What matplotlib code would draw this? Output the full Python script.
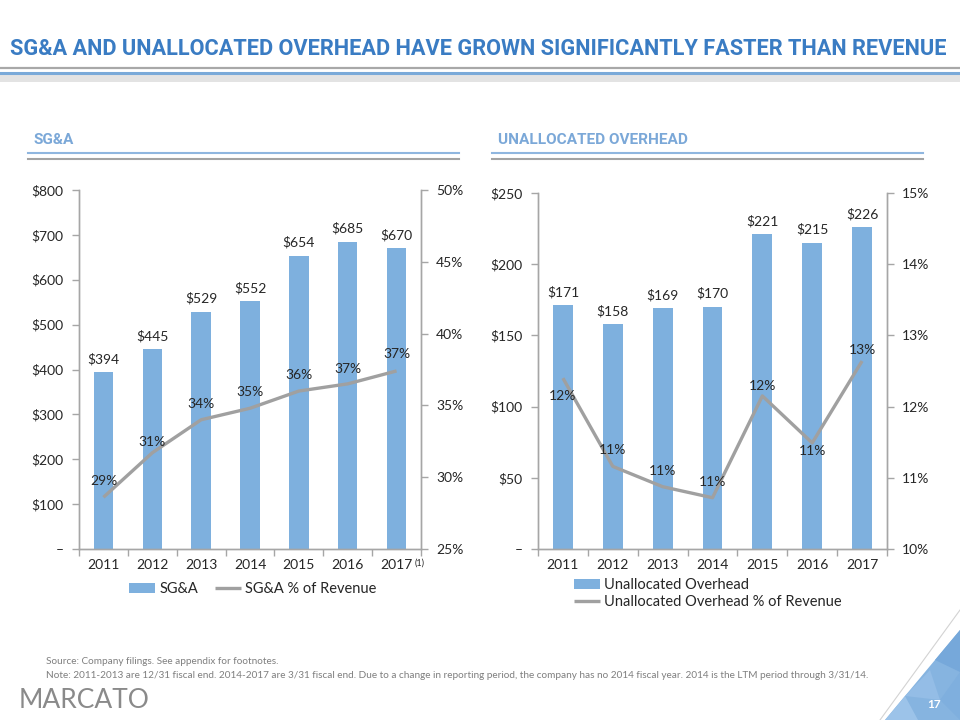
import matplotlib
matplotlib.use("Agg")
import matplotlib.pyplot as plt
from matplotlib.patches import Polygon, Rectangle
from matplotlib.lines import Line2D

plt.rcParams['font.family'] = ['Lato', 'DejaVu Sans']

# ---------------- data ----------------
years = ['2011', '2012', '2013', '2014', '2015', '2016', '2017']
sga_values = [394, 445, 529, 552, 654, 685, 670]
sga_pct = [28.6, 31.7, 34.0, 34.8, 36.0, 36.5, 37.4]
sga_pct_labels = ['29%', '31%', '34%', '35%', '36%', '37%', '37%']

uo_values = [171, 158, 169, 170, 221, 215, 226]
uo_pct = [12.40, 11.16, 10.875, 10.72, 12.15, 11.49, 12.64]
uo_pct_labels = ['12%', '11%', '11%', '11%', '12%', '11%', '13%']

left_yticks = [0, 100, 200, 300, 400, 500, 600, 700, 800]
left_pticks = [25, 30, 35, 40, 45, 50]
right_yticks = [0, 50, 100, 150, 200, 250]
right_pticks = [10, 11, 12, 13, 14, 15]

# ---------------- style ----------------
W, H = 960, 720
BAR = '#7eb0de'
LINE = '#a0a0a0'
SPINE = '#a6a6a6'
TXT = '#262626'
TITLE_BLUE = '#3a7cc3'
HEAD_BLUE = '#7ba8d8'
FS = 10
LFS = 10.5

# offsets (points) for the % labels
sga_lab_off = [12, 8, 11, 11.5, 11.5, 11, 12]
uo_lab_off = [-13, 11.5, 11.5, 11.5, 7.5, -6, 8]

fig = plt.figure(figsize=(9.6, 7.2), dpi=100)


def fx(x):
    return x / W


def fy(y):
    return 1 - y / H


def ax_rect(x0, y0, x1, y1):
    return [fx(x0), fy(y1), fx(x1) - fx(x0), fy(y0) - fy(y1)]


# ---------------- title & headers ----------------
fig.text(fx(10), fy(49), 'SG&A AND UNALLOCATED OVERHEAD HAVE GROWN SIGNIFICANTLY FASTER THAN REVENUE',
         family='Roboto', weight='bold', fontsize=15.7, color=TITLE_BLUE, va='center', ha='left')
fig.add_artist(Line2D([0, 1], [fy(67.5)] * 2, color='#a8a8a8', lw=1.6, transform=fig.transFigure))
fig.add_artist(Line2D([0, 1], [fy(72.5)] * 2, color='#7aaad9', lw=2.2, transform=fig.transFigure))
fig.add_artist(Rectangle((0, fy(82)), 1, fy(74.5) - fy(82), color='#e3e3e3', transform=fig.transFigure, lw=0))

for x0, x1, txt in [(28, 459, 'SG&A'), (492, 923, 'UNALLOCATED OVERHEAD')]:
    fig.text(fx(x0 + 6), fy(140), txt, family='Roboto', weight='bold', fontsize=11.1,
             color=HEAD_BLUE, va='center', ha='left')
    fig.add_artist(Line2D([fx(x0), fx(x1)], [fy(153)] * 2, color='#8fb6df', lw=1.5, transform=fig.transFigure))
    fig.add_artist(Line2D([fx(x0), fx(x1)], [fy(159)] * 2, color='#a3a3a3', lw=1.5, transform=fig.transFigure))


def style_axes(ax, ax2):
    for a in (ax, ax2):
        a.spines['top'].set_visible(False)
        for s in ('left', 'right', 'bottom'):
            a.spines[s].set_color(SPINE)
            a.spines[s].set_linewidth(1.0)
        a.tick_params(colors=SPINE, labelcolor=TXT, labelsize=FS, length=5, width=1)
    ax.set_xlim(-0.5, 6.5)
    ax.set_xticks(range(len(years)))
    ax.tick_params(axis='x', length=0, pad=7)
    ax.set_xticks([i - 0.5 for i in range(len(years) + 1)], minor=True)
    ax.tick_params(axis='x', which='minor', length=5, width=1, colors=SPINE, direction='out')
    ax.tick_params(axis='y', pad=6)
    ax2.tick_params(axis='y', pad=6)
    ax.set_zorder(ax2.get_zorder() - 1)
    ax.patch.set_visible(True)
    ax2.patch.set_visible(False)


# ---------------- left chart ----------------
axL = fig.add_axes(ax_rect(79, 190, 421, 549))
axL2 = axL.twinx()
x = list(range(len(years)))
barsL = axL.bar(x, sga_values, width=0.4, color=BAR, label='SG&A', zorder=2)
lineL, = axL2.plot(x, sga_pct, color=LINE, lw=2.4, label='SG&A % of Revenue', solid_capstyle='butt')
axL.set_ylim(0, 800)
axL.set_yticks(left_yticks)
axL.set_yticklabels(['–' if v == 0 else f'${v}' for v in left_yticks])
axL2.set_ylim(25, 50)
axL2.set_yticks(left_pticks)
axL2.set_yticklabels([f'{v}%' for v in left_pticks])
axL.set_xticklabels(years)
style_axes(axL, axL2)
# footnote marker on last year
axL.annotate('(1)', xy=(len(years) - 1, 0), xycoords=('data', 'axes fraction'), xytext=(13, -10),
             textcoords='offset points', fontsize=6.5, color=TXT, ha='left', va='center')
for i, v in enumerate(sga_values):
    axL.annotate(f'${v}', (i, v), xytext=(0, 9.5), textcoords='offset points', ha='center', va='center',
                 fontsize=FS, color=TXT)
for i, v in enumerate(sga_pct):
    axL2.annotate(sga_pct_labels[i], (i, v), xytext=(0, sga_lab_off[i]), textcoords='offset points',
                  ha='center', va='center', fontsize=FS, color=TXT)

fig.legend([barsL, lineL], ['SG&A', 'SG&A % of Revenue'], loc='center', bbox_to_anchor=(fx(253), fy(589)),
           ncol=2, frameon=False, fontsize=LFS, handlelength=1.75, handletextpad=0.3, columnspacing=1.2,
           labelcolor=TXT)

# ---------------- right chart ----------------
axR = fig.add_axes(ax_rect(538, 193, 887, 549))
axR2 = axR.twinx()
barsR = axR.bar(x, uo_values, width=0.4, color=BAR, zorder=2)
lineR, = axR2.plot(x, uo_pct, color=LINE, lw=2.4, solid_capstyle='butt')
axR.set_ylim(0, 250)
axR.set_yticks(right_yticks)
axR.set_yticklabels(['–' if v == 0 else f'${v}' for v in right_yticks])
axR2.set_ylim(10, 15)
axR2.set_yticks(right_pticks)
axR2.set_yticklabels([f'{v}%' for v in right_pticks])
axR.set_xticklabels(years)
style_axes(axR, axR2)
for i, v in enumerate(uo_values):
    axR.annotate(f'${v}', (i, v), xytext=(0, 9.5), textcoords='offset points', ha='center', va='center',
                 fontsize=FS, color=TXT)
for i, v in enumerate(uo_pct):
    axR2.annotate(uo_pct_labels[i], (i, v), xytext=(0, uo_lab_off[i]), textcoords='offset points',
                  ha='center', va='center', fontsize=FS, color=TXT)

fig.legend([barsR, lineR], ['Unallocated Overhead', 'Unallocated Overhead % of Revenue'], loc='upper left',
           bbox_to_anchor=(fx(574), fy(578)), ncol=1, frameon=False, fontsize=LFS, handlelength=1.75,
           handletextpad=0.3, labelspacing=0.2, labelcolor=TXT, borderaxespad=0, borderpad=0)

# ---------------- footer ----------------
fig.text(fx(46), fy(661), 'Source: Company filings. See appendix for footnotes.', fontsize=7.2,
         color='#7f7f7f', va='center', ha='left')
fig.text(fx(46), fy(676), 'Note: 2011-2013 are 12/31 fiscal end. 2014-2017 are 3/31 fiscal end. Due to a change in '
         'reporting period, the company has no 2014 fiscal year. 2014 is the LTM period through 3/31/14.',
         fontsize=7.2, color='#7f7f7f', va='center', ha='left')
fig.text(fx(19), fy(701), 'MARCATO', fontsize=19, color='#8a8a8a', va='center', ha='left', weight='normal')

# decoration bottom-right
fig.add_artist(Line2D([fx(880), fx(960)], [fy(720), fy(610)], color='#d3d3d3', lw=0.8, transform=fig.transFigure))
tri = [(885, 720), (960, 720), (960, 630)]
fig.add_artist(Polygon([(fx(a), fy(b)) for a, b in tri], closed=True, color='#86b4e0', lw=0,
                       transform=fig.transFigure))
facets = [
    ([(905, 696), (930, 670), (940, 700)], '#94bde6'),
    ([(935, 660), (960, 630), (960, 672)], '#76a8da'),
    ([(940, 700), (960, 672), (960, 720)], '#7fafde'),
    ([(885, 720), (905, 696), (918, 720)], '#9cc3e9'),
]
for pts, c in facets:
    fig.add_artist(Polygon([(fx(a), fy(b)) for a, b in pts], closed=True, color=c, lw=0,
                           transform=fig.transFigure))
fig.text(fx(934), fy(705), '17', fontsize=8.5, color='white', weight='bold', ha='center', va='center')

fig.savefig('out.png', dpi=100)
